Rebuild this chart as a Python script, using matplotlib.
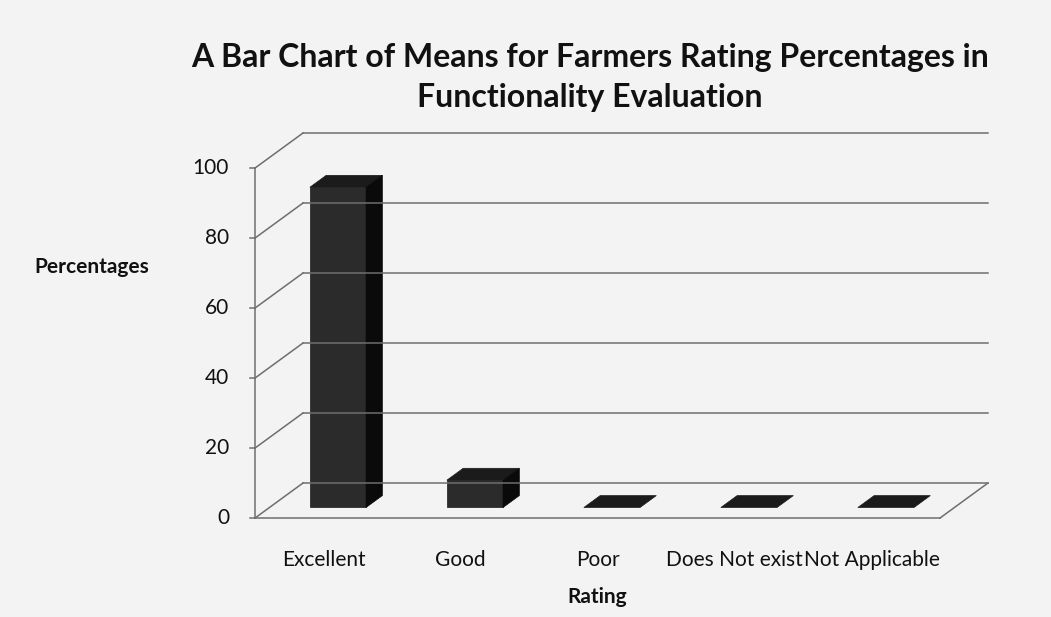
import matplotlib.pyplot as plt
from matplotlib.patches import Polygon

# Data
categories = ["Excellent", "Good", "Poor", "Does Not exist", "Not Applicable"]
values = [91.5, 7.8, 0.0, 0.0, 0.0]
y_ticks = [0, 20, 40, 60, 80, 100]

title = "A Bar Chart of Means for Farmers Rating Percentages in\nFunctionality Evaluation"

# oblique 3D look: depth offset in (category units, value units)
DX, DY = 0.35, 10.0
BAR_W = 0.41
F0, F1 = 0.30, 0.64   # bar front/back as fraction of depth

BG = "#f3f3f3"
GRID = "#6e6e6e"

plt.rcParams['font.family'] = ['Lato', 'DejaVu Sans']

fig = plt.figure(figsize=(10.51, 6.17), dpi=100, facecolor=BG)
ax = fig.add_axes([0.2036, 0.1321, 0.756, 0.6807])
ax.set_facecolor(BG)
ax.set_xlim(-0.3, 5.5)
ax.set_ylim(-5, 115)
ax.axis("off")

n = len(categories)

# back wall gridlines + side wall diagonals
for g in y_ticks:
    ax.plot([DX, n + DX], [DY + g, DY + g], color=GRID, lw=1.1)
    ax.plot([0, DX], [g, DY + g], color=GRID, lw=1.1)
    ax.plot([-0.04, 0], [g, g], color=GRID, lw=1.1)
    ax.text(-0.19, g, str(g), ha="right", va="center", fontsize=15, color="#111")
# front axis and floor
ax.plot([0, 0], [0, 100], color=GRID, lw=1.1)
ax.plot([0, n], [0, 0], color=GRID, lw=1.1)
ax.plot([n, n + DX], [0, DY], color=GRID, lw=1.1)

# bars
for i, v in enumerate(values):
    x0 = i + 0.5 - BAR_W / 2 + F0 * DX
    x1 = x0 + BAR_W
    y0 = F0 * DY
    ddx = (F1 - F0) * DX
    ddy = (F1 - F0) * DY
    top = y0 + v
    ax.add_patch(Polygon([(x0, top), (x1, top), (x1 + ddx, top + ddy), (x0 + ddx, top + ddy)],
                         closed=True, facecolor="#1b1b1b", edgecolor="#1b1b1b", lw=0.5))
    if v > 0:
        ax.add_patch(Polygon([(x0, y0), (x1, y0), (x1, top), (x0, top)],
                             closed=True, facecolor="#2b2b2b", edgecolor="#1b1b1b", lw=0.5))
        ax.add_patch(Polygon([(x1, y0), (x1 + ddx, y0 + ddy), (x1 + ddx, top + ddy), (x1, top)],
                             closed=True, facecolor="#0a0a0a", edgecolor="#0a0a0a", lw=0.5))
    ax.text(i + 0.5, -12, categories[i], ha="center", va="center", fontsize=15, color="#111")

fig.text(0.561, 0.875, title, ha="center", va="center", fontsize=23,
         fontweight="bold", linespacing=1.45, color="#111")
fig.text(0.0875, 0.567, "Percentages", ha="center", va="center", fontsize=15,
         fontweight="bold", color="#111")
fig.text(0.568, 0.032, "Rating", ha="center", va="center", fontsize=15,
         fontweight="bold", color="#111")

fig.savefig("out.png", dpi=100, facecolor=BG)
